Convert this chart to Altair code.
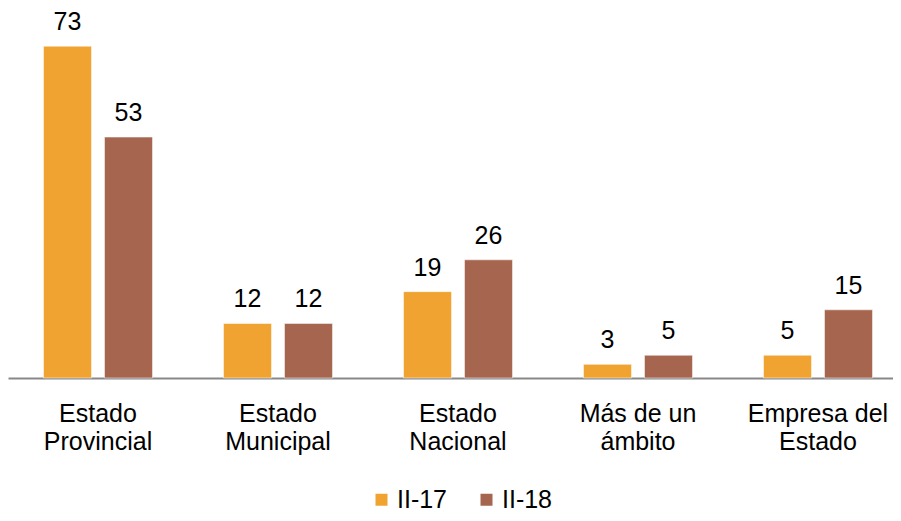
import altair as alt
import pandas as pd

categories = ["Estado|Provincial", "Estado|Municipal", "Estado|Nacional", "Más de un|ámbito", "Empresa del|Estado"]
series = ["II-17", "II-18"]
values_ii17 = [73, 12, 19, 3, 5]
values_ii18 = [53, 12, 26, 5, 15]
colors = ["#F0A330", "#A6654E"]

rows = []
for c, a, b in zip(categories, values_ii17, values_ii18):
    rows.append({"cat": c, "serie": series[0], "val": a})
    rows.append({"cat": c, "serie": series[1], "val": b})
df = pd.DataFrame(rows)

FONT = "Liberation Sans"

x = alt.X("cat:N", sort=categories, title=None,
          scale=alt.Scale(range=[0, 900], paddingInner=0, paddingOuter=0),
          axis=alt.Axis(labelExpr="split(datum.label, '|')", labelAngle=0,
                        labelFontSize=25, labelFont=FONT, labelColor="#000000",
                        labelLineHeight=28, labelBaseline="top", labelPadding=23,
                        ticks=False, tickSize=0, domainColor="#888888", domainWidth=2,
                        labelLimit=0))
y = alt.Y("val:Q", title=None, scale=alt.Scale(domain=[0, 81.4], nice=False),
          axis=None)
xo = alt.XOffset("serie:N", sort=series,
                 scale=alt.Scale(paddingInner=0.2131, paddingOuter=0.582))

base = alt.Chart(df).encode(x=x, xOffset=xo)

bars = base.mark_bar(stroke="white", strokeWidth=1, strokeOpacity=0.5).encode(
    y=y,
    color=alt.Color("serie:N", sort=series,
                    scale=alt.Scale(domain=series, range=colors),
                    legend=alt.Legend(title=None, orient="none", direction="horizontal",
                                      legendX=361, legendY=479, padding=0,
                                      symbolType="square", symbolSize=144,
                                      symbolStrokeWidth=0,
                                      labelFontSize=25, labelFont=FONT,
                                      labelColor="#000000", labelOffset=3,
                                      columnPadding=26)),
)

labels = base.mark_text(baseline="alphabetic", dy=-16, fontSize=25, font=FONT,
                        color="#000000").encode(
    y=y, text="val:Q")

chart = alt.layer(bars, labels).properties(
    width=885, height=370,
    autosize=alt.AutoSizeParams(type="none"),
    padding={"left": 0, "top": 0, "right": 0, "bottom": 135},
).configure_view(stroke=None)

chart.save("out.html", embed_options={"renderer": "svg", "actions": False})
